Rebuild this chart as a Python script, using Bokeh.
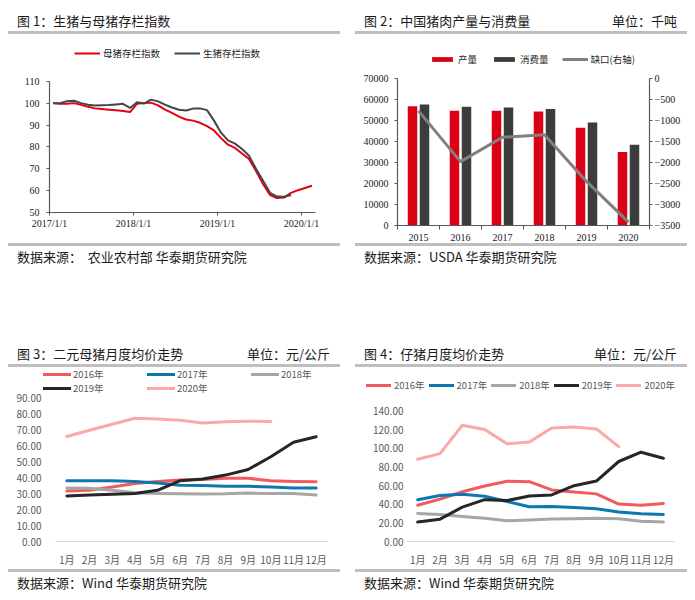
from bokeh.plotting import figure
from bokeh.models import (Range1d, LinearAxis, FixedTicker, Legend, LegendItem,
                          Div, Spacer, NumeralTickFormatter)
from bokeh.layouts import column, row
from bokeh.embed import file_html
from bokeh.resources import INLINE

CJK = "Noto Sans CJK SC"
SERIF = "Liberation Serif"
GRID_GRAY = "#bfbfbf"

# ---------------- data: chart 1 (monthly from 2017-01) ----------------
c1_sow = [100.0, 99.7, 99.7, 100.0, 99.2, 98.3, 97.6, 97.3, 97.0, 96.7, 96.4, 95.9,
          99.7, 100.0, 100.2, 99.0, 97.0, 95.5, 93.8, 92.5, 92.0, 91.0, 89.5, 87.5,
          84.0, 81.0, 79.5, 77.0, 74.5, 69.0, 63.0, 58.0, 56.6, 56.8, 59.0, 60.2,
          61.2, 62.2]
c1_hog = [100.0, 100.0, 100.9, 101.1, 100.0, 99.3, 98.9, 99.0, 99.1, 99.4, 99.7, 97.8,
          100.4, 99.8, 101.6, 100.8, 99.3, 98.0, 97.0, 96.6, 97.5, 97.6, 96.8, 92.0,
          86.5, 83.0, 81.5, 79.0, 76.0, 70.0, 64.5, 59.0, 57.3, 57.2, 58.0]
c1_tick_labels = ["2017/1/1", "2018/1/1", "2019/1/1", "2020/1/1"]
c1_labels = ["母猪存栏指数", "生猪存栏指数"]

# ---------------- data: chart 2 ----------------
c2_years = ["2015", "2016", "2017", "2018", "2019", "2020"]
c2_production = [56800, 54600, 54700, 54300, 46600, 35000]
c2_consumption = [57600, 56500, 56200, 55500, 49000, 38400]
c2_gap = [-770, -1980, -1400, -1340, -2450, -3420]
c2_labels = ["产量", "消费量", "缺口(右轴)"]

# ---------------- data: chart 3 / 4 ----------------
months = ["1月", "2月", "3月", "4月", "5月", "6月", "7月", "8月", "9月", "10月", "11月", "12月"]
series_names = ["2016年", "2017年", "2018年", "2019年", "2020年"]
series_colors = ["#f4595c", "#0b78b0", "#a6a6a6", "#262626", "#fba8a8"]

c3_2016 = [31.5, 32.0, 34.0, 36.2, 37.5, 38.5, 38.8, 39.5, 39.5, 38.0, 37.5, 37.3]
c3_2017 = [38.0, 38.0, 38.0, 37.5, 36.5, 35.2, 35.0, 34.5, 34.5, 34.0, 33.5, 33.5]
c3_2018 = [33.5, 33.3, 32.0, 30.5, 30.0, 29.8, 29.7, 29.8, 30.3, 30.0, 30.0, 29.0]
c3_2019 = [28.5, 29.0, 29.5, 30.0, 32.0, 38.0, 39.0, 41.5, 45.0, 53.0, 62.0, 65.5]
c3_2020 = [65.6, 69.5, 73.3, 77.0, 76.5, 75.8, 74.0, 74.8, 75.2, 75.0]

c4_2016 = [39.0, 45.5, 53.5, 59.7, 64.7, 64.3, 55.4, 53.3, 51.2, 40.2, 39.0, 40.9]
c4_2017 = [44.8, 49.4, 50.8, 48.7, 43.0, 37.3, 37.7, 36.6, 35.2, 31.6, 29.8, 29.1]
c4_2018 = [30.2, 29.0, 27.0, 24.9, 22.4, 23.1, 24.2, 24.5, 24.9, 24.5, 21.7, 21.0]
c4_2019 = [21.0, 24.0, 37.0, 45.0, 44.0, 49.0, 50.0, 60.0, 65.0, 86.0, 96.0, 89.5]
c4_2020 = [88.5, 94.5, 125.0, 120.5, 105.0, 107.0, 122.0, 123.0, 121.0, 102.0]


def title_div(left, right=""):
    html = ('<div style="box-sizing:border-box;width:332px;height:26px;'
            'border-bottom:3px solid %s;display:flex;justify-content:space-between;'
            'align-items:flex-end;padding:0 10px 2px 9px;font-family:\'%s\';'
            'font-size:13px;line-height:16px;color:#1a1a1a;white-space:pre;">'
            '<span>%s</span><span>%s</span></div>') % (GRID_GRAY, CJK, left, right)
    return Div(text=html, width=332, height=26, margin=0)


def source_div(text):
    html = ('<div style="box-sizing:border-box;width:332px;height:23px;'
            'border-top:3px solid %s;padding:3px 0 0 9px;font-family:\'%s\';'
            'font-size:13px;line-height:16px;color:#1a1a1a;white-space:pre;">%s</div>'
            ) % (GRID_GRAY, CJK, text)
    return Div(text=html, width=332, height=23, margin=0)


def base_fig(**kw):
    p = figure(output_backend="svg", toolbar_location=None, **kw)
    p.outline_line_color = None
    p.xgrid.grid_line_color = None
    p.ygrid.grid_line_color = None
    p.background_fill_color = "white"
    p.border_fill_color = "white"
    return p


def plain_legend(items, **kw):
    return Legend(items=items, orientation="horizontal", padding=0, margin=0,
                  border_line_color=None, background_fill_alpha=0,
                  label_text_font=CJK, **kw)


# ================= chart 1 =================
p1 = base_fig(width=332, height=209, x_range=Range1d(0, 38), y_range=Range1d(50, 126.8),
              min_border_left=41, min_border_right=25, min_border_top=10, min_border_bottom=31)
x_sow = [i + 0.5 for i in range(len(c1_sow))]
x_hog = [i + 0.5 for i in range(len(c1_hog))]
r_sow = p1.line(x_sow, c1_sow, line_color="#e60012", line_width=2)
r_hog = p1.line(x_hog, c1_hog, line_color="#454545", line_width=2)
p1.xaxis.ticker = FixedTicker(ticks=[12 * i for i in range(len(c1_tick_labels))])
p1.xaxis.major_label_overrides = {float(12 * i): t for i, t in enumerate(c1_tick_labels)}
p1.yaxis.ticker = FixedTicker(ticks=list(range(50, 111, 10)))
p1.yaxis.bounds = (50, 110)
for ax in (p1.xaxis[0], p1.yaxis[0]):
    ax.axis_line_color = "#595959"
    ax.axis_line_width = 1.2
    ax.major_tick_line_color = "#595959"
    ax.major_tick_in = 0
    ax.major_tick_out = 3
    ax.minor_tick_line_color = None
    ax.major_label_text_font = SERIF
    ax.major_label_text_font_size = "10px"
    ax.major_label_text_color = "#1a1a1a"
p1.yaxis.major_label_standoff = 7
p1.xaxis.major_label_standoff = 2
leg1 = plain_legend([LegendItem(label=c1_labels[0], renderers=[r_sow]),
                     LegendItem(label=c1_labels[1], renderers=[r_hog])],
                    location=(25, 152), spacing=14, label_standoff=3, glyph_width=26,
                    glyph_height=12, label_text_font_size="9.5px", label_text_color="#262626")
p1.add_layout(leg1)

# ================= chart 2 =================
p2 = base_fig(width=332, height=209, x_range=Range1d(0, len(c2_years)), y_range=Range1d(0, 86190),
              min_border_left=42, min_border_right=38, min_border_top=10, min_border_bottom=18)
p2.extra_y_ranges = {"gap": Range1d(-3500, 809.5)}
centers = [i + 0.5 for i in range(len(c2_years))]
r_prod = p2.vbar(x=[c - 0.143 for c in centers], top=c2_production, width=0.226,
                 fill_color="#dc0015", line_color=None)
r_cons = p2.vbar(x=[c + 0.143 for c in centers], top=c2_consumption, width=0.226,
                 fill_color="#3c3c3c", line_color=None)
r_gap = p2.line(centers, c2_gap, y_range_name="gap", line_color="#808080", line_width=3)
ax_r = LinearAxis(y_range_name="gap", ticker=FixedTicker(ticks=list(range(-3500, 1, 500))),
                  bounds=(-3500, 0))
p2.add_layout(ax_r, "right")
p2.xaxis.ticker = FixedTicker(ticks=centers, minor_ticks=list(range(len(c2_years) + 1)))
p2.xaxis.major_label_overrides = {float(c): y for c, y in zip(centers, c2_years)}
p2.xaxis.major_tick_line_color = None
p2.xaxis.major_tick_out = 0
p2.xaxis.minor_tick_line_color = "#595959"
p2.xaxis.minor_tick_in = 0
p2.xaxis.minor_tick_out = 4
p2.xaxis.major_label_standoff = 4
p2.yaxis[0].ticker = FixedTicker(ticks=list(range(0, 70001, 10000)))
p2.yaxis[0].bounds = (0, 70000)
for ax in (p2.xaxis[0], p2.yaxis[0], ax_r):
    ax.axis_line_color = "#595959"
    ax.axis_line_width = 1.2
    ax.major_label_text_font = SERIF
    ax.major_label_text_font_size = "10px"
    ax.major_label_text_color = "#1a1a1a"
for ax in (p2.yaxis[0], ax_r):
    ax.major_tick_line_color = "#595959"
    ax.major_tick_in = 0
    ax.major_tick_out = 3
    ax.minor_tick_line_color = None
p2.yaxis[0].major_label_standoff = 6
ax_r.major_label_standoff = 2
leg2 = plain_legend([LegendItem(label=c2_labels[0], renderers=[r_prod]),
                     LegendItem(label=c2_labels[1], renderers=[r_cons]),
                     LegendItem(label=c2_labels[2], renderers=[r_gap])],
                    location=(32, 159), spacing=13, label_standoff=3, glyph_width=26,
                    glyph_height=6, label_text_font_size="9.5px", label_text_color="#262626")
p2.add_layout(leg2)


# ================= chart 3 / 4 =================
def month_fig(series, y_top, y_max, y_step, x_lo, x_hi, borders, ystandoff):
    left, right, top, bottom = borders
    p = base_fig(width=332, height=202, x_range=Range1d(x_lo, x_hi),
                 y_range=Range1d(0, y_top), min_border_left=left, min_border_right=right,
                 min_border_top=top, min_border_bottom=bottom)
    rs = []
    for vals, col in zip(series, series_colors):
        xs = [i + 0.5 for i in range(len(vals))]
        rs.append(p.line(xs, vals, line_color=col, line_width=3,
                         line_join="round", line_cap="round"))
    p.yaxis.ticker = FixedTicker(ticks=list(range(0, y_max + 1, y_step)))
    p.yaxis.formatter = NumeralTickFormatter(format="0.00")
    p.yaxis.axis_line_color = None
    p.yaxis.major_tick_line_color = None
    p.yaxis.major_tick_out = 0
    p.yaxis.minor_tick_line_color = None
    p.yaxis.major_label_standoff = ystandoff
    p.xaxis.ticker = FixedTicker(ticks=[i + 0.5 for i in range(len(months))])
    p.xaxis.major_label_overrides = {i + 0.5: m for i, m in enumerate(months)}
    p.xaxis.bounds = (0, len(months))
    p.xaxis.axis_line_color = "#d9d9d9"
    p.xaxis.axis_line_width = 1.2
    p.xaxis.major_tick_line_color = None
    p.xaxis.minor_tick_line_color = None
    p.xaxis.major_tick_out = 0
    p.xaxis.major_label_standoff = 10
    for ax in (p.xaxis[0], p.yaxis[0]):
        ax.major_label_text_font = CJK
        ax.major_label_text_font_size = "10px"
        ax.major_label_text_color = "#595959"
    return p, rs


p3, rs3 = month_fig([c3_2016, c3_2017, c3_2018, c3_2019, c3_2020], 108.75, 90, 10,
                    -0.53, 12.0, (35, 13, 0, 28), 2)
leg3 = plain_legend([LegendItem(label=n, renderers=[r]) for n, r in zip(series_names, rs3)],
                    location=(0, 146.5), ncols=3, spacing=0, label_standoff=2, glyph_width=28,
                    glyph_height=12, label_height=13, label_width=74,
                    label_text_font_size="9.5px", label_text_color="#595959")
p3.add_layout(leg3)

p4, rs4 = month_fig([c4_2016, c4_2017, c4_2018, c4_2019, c4_2020], 182.75, 140, 20,
                    -1.97, 12.49, (7, 2, 4, 27), -41)
leg4 = plain_legend([LegendItem(label=n, renderers=[r]) for n, r in zip(series_names, rs4)],
                    location=(4, 149), spacing=4, label_standoff=3, glyph_width=25,
                    glyph_height=12, label_height=13, label_width=29,
                    label_text_font_size="9.5px", label_text_color="#595959")
p4.add_layout(leg4)

# ================= layout =================
panel1 = column(title_div("图 1：生猪与母猪存栏指数"), p1,
                source_div("数据来源：  农业农村部 华泰期货研究院"), spacing=0)
panel2 = column(title_div("图 2：中国猪肉产量与消费量", "单位：千吨"), p2,
                source_div("数据来源：USDA 华泰期货研究院"), spacing=0)
panel3 = column(title_div("图 3：二元母猪月度均价走势", "单位：元/公斤"), p3,
                source_div("数据来源：Wind 华泰期货研究院"), spacing=0)
panel4 = column(title_div("图 4：仔猪月度均价走势", "单位：元/公斤"), p4,
                source_div("数据来源：Wind 华泰期货研究院"), spacing=0)

layout = column(row(panel1, Spacer(width=15, height=10, margin=0), panel2, spacing=0),
                Spacer(width=10, height=75, margin=0),
                row(panel3, Spacer(width=15, height=10, margin=0), panel4, spacing=0),
                spacing=0, margin=(8, 0, 0, 8))

open("out.html", "w").write(file_html(layout, INLINE))
